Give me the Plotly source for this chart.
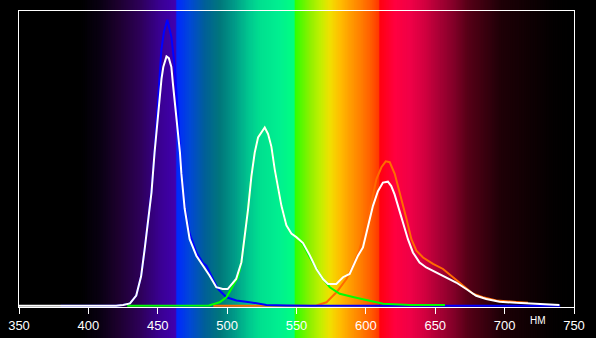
import plotly.graph_objects as go

# ---------------- data (wavelength nm, relative intensity) ----------------
blue_nm = [380, 420, 425, 430, 434.5, 438, 440.5, 443, 445.5, 447.7, 449.4, 451.4, 452.6, 454.5,
           456.9, 459.8, 462.2, 464.6, 466, 467, 469.4, 473, 477.8, 482.6, 485, 489.8, 493.4,
           499.5, 506.7, 516.3, 528.3, 542.7, 560, 740]
blue_val = [0, 0, 0.003, 0.008, 0.035, 0.10, 0.19, 0.29, 0.39, 0.52, 0.64, 0.757, 0.868, 0.93,
            0.97, 0.913, 0.812, 0.643, 0.52, 0.45, 0.34, 0.245, 0.182, 0.145, 0.136, 0.091, 0.057,
            0.029, 0.018, 0.0125, 0.003, 0.001, 0, 0]

green_nm = [428, 487, 494.6, 499.5, 504.3, 507.9, 510.3, 512.7, 515.1, 517.5, 519.9, 522.3, 524.7,
            527.1, 529.5, 531.9, 534.3, 536.7, 539.1, 542.7, 546.3, 549.9, 554.7, 559.5, 564.3,
            568, 574, 581.2, 590.7, 602.8, 612.4, 631.7, 657]
green_val = [0, 0.001, 0.012, 0.029, 0.068, 0.097, 0.148, 0.238, 0.328, 0.44, 0.52, 0.571, 0.588,
             0.605, 0.583, 0.54, 0.463, 0.406, 0.34, 0.273, 0.245, 0.233, 0.208, 0.165, 0.125,
             0.097, 0.063, 0.041, 0.030, 0.018, 0.007, 0.003, 0.003]

red_nm = [490, 564.4, 571.6, 578.8, 586, 590.8, 595.6, 600.4, 604, 607.6, 611.2, 614.3, 617.2,
          620.8, 624.4, 629.2, 632.8, 636.4, 641.2, 648.4, 655.6, 662.8, 670, 677.2, 684.4, 694,
          708.4, 716.8]
red_val = [0, 0.001, 0.012, 0.046, 0.091, 0.136, 0.193, 0.284, 0.351, 0.43, 0.47, 0.49, 0.487,
           0.448, 0.386, 0.296, 0.226, 0.187, 0.164, 0.142, 0.125, 0.097, 0.069, 0.041, 0.029,
           0.018, 0.013, 0.01]

white_nm = [350, 420, 425, 430, 434.5, 438, 440.5, 443, 445.5, 447.7, 449.4, 451, 452.7, 454,
            456.3, 458, 459.8, 461, 463, 464.6, 466, 467, 469.4, 473, 477.8, 482.6, 487.4, 492.2,
            496.8, 500.4, 506.5, 510.3, 512.7, 515.1, 517.5, 519.9, 522.3, 524.7, 527.1, 529.5,
            531.9, 534.3, 536.7, 539.1, 542.7, 546.3, 549.9, 554.7, 559.5, 564.3, 569.1, 572.7,
            578.7, 583.5, 588.3, 590.7, 594.3, 597.9, 600.3, 602.7, 605.1, 608.7, 612.3, 615.9,
            618.3, 620.7, 623.1, 626.7, 630.3, 633.9, 638.7, 643.5, 650.7, 657.9, 665.1, 672.3,
            679.5, 686.7, 696.3, 708.3, 722.7, 739.5]
white_val = [0, 0, 0.003, 0.008, 0.035, 0.10, 0.19, 0.29, 0.385, 0.52, 0.60, 0.70, 0.77, 0.81,
             0.846, 0.84, 0.81, 0.75, 0.665, 0.60, 0.52, 0.45, 0.33, 0.226, 0.17, 0.136, 0.102,
             0.063, 0.057, 0.057, 0.091, 0.148, 0.238, 0.328, 0.44, 0.52, 0.571, 0.588, 0.605,
             0.583, 0.54, 0.463, 0.406, 0.34, 0.273, 0.245, 0.233, 0.213, 0.172, 0.125, 0.091,
             0.074, 0.074, 0.097, 0.108, 0.131, 0.170, 0.198, 0.248, 0.294, 0.339, 0.389, 0.418,
             0.421, 0.406, 0.378, 0.338, 0.282, 0.226, 0.181, 0.147, 0.130, 0.113, 0.096, 0.079,
             0.057, 0.034, 0.023, 0.014, 0.010, 0.007, 0.003]

tick_vals = [350, 400, 450, 500, 550, 600, 650, 700, 750]
unit_label = "НМ"

# ---------------- background spectrum gradient (style) ----------------
grad_stops = [
    (350, "#000000"), (393, "#000000"), (408, "#0a0012"), (422, "#1e0030"), (437, "#2e0058"),
    (451, "#3a0090"), (463, "#4200b0"), (463.6, "#0028ff"), (473, "#0048d8"), (484, "#006098"),
    (495, "#00787c"), (505, "#009a88"), (516, "#00c890"), (524, "#00e090"), (538, "#00f090"),
    (548.4, "#00ff80"), (549, "#30ff00"), (560, "#90f000"), (567, "#c0f000"), (574, "#f0e000"),
    (581, "#ffc000"), (588, "#ffa000"), (596, "#ff8000"), (603, "#ff6000"), (609.4, "#ff3800"),
    (610, "#ff0010"), (621, "#ff0040"), (632, "#f00048"), (643, "#d00040"), (653, "#a80035"),
    (664, "#800028"), (673, "#580018"), (697, "#200008"), (718, "#100004"), (733, "#050002"),
    (750, "#000000"),
]


def hex2rgb(h):
    h = h.lstrip("#")
    return tuple(int(h[i:i + 2], 16) for i in (0, 2, 4))


def grad_color(w):
    for (w0, c0), (w1, c1) in zip(grad_stops[:-1], grad_stops[1:]):
        if w0 <= w <= w1:
            t = 0 if w1 == w0 else (w - w0) / (w1 - w0)
            a, b = hex2rgb(c0), hex2rgb(c1)
            return "rgb(%d,%d,%d)" % tuple(round(a[i] + (b[i] - a[i]) * t) for i in range(3))
    return "#000000"


shapes = []
step = 0.5
w = 350.0
while w < 750:
    shapes.append(dict(type="rect", xref="x", yref="paper", x0=w, x1=w + step * 2.2,
                       y0=-0.2, y1=1.1, fillcolor=grad_color(w + step / 2),
                       line=dict(width=0), layer="below"))
    w += step

fig = go.Figure()
line_w = 2
fig.add_trace(go.Scatter(x=red_nm, y=red_val, mode="lines", line=dict(color="#ff6a00", width=line_w)))
fig.add_trace(go.Scatter(x=blue_nm, y=blue_val, mode="lines", line=dict(color="#0000ff", width=line_w)))
fig.add_trace(go.Scatter(x=green_nm, y=green_val, mode="lines", line=dict(color="#00ff00", width=line_w)))
fig.add_trace(go.Scatter(x=white_nm, y=white_val, mode="lines", line=dict(color="#ffffff", width=line_w)))

fig.update_layout(
    width=596, height=338,
    margin=dict(l=19, r=22, t=11, b=31),
    paper_bgcolor="#000000",
    plot_bgcolor="rgba(0,0,0,0)",
    showlegend=False,
    shapes=shapes,
    xaxis=dict(range=[350, 750], tickvals=tick_vals, ticks="outside", ticklen=6, tickwidth=1,
               tickcolor="#ffffff", showline=True, linecolor="#ffffff", linewidth=1, mirror=True,
               showgrid=False, zeroline=False, automargin=False,
               tickfont=dict(family="Liberation Sans, Arial, sans-serif", size=13, color="#ffffff"),
               ticklabelstandoff=0),
    yaxis=dict(range=[-0.004, 1.0], showticklabels=False, ticks="", showline=True,
               linecolor="#ffffff", linewidth=1, mirror=True, showgrid=False, zeroline=False,
               automargin=False),
    annotations=[dict(x=724, y=-0.045, xref="x", yref="paper", text=unit_label, showarrow=False,
                      font=dict(family="Liberation Sans, Arial, sans-serif", size=10, color="#ffffff"),
                      xanchor="center", yanchor="middle")],
)

fig.write_html("out.html")
